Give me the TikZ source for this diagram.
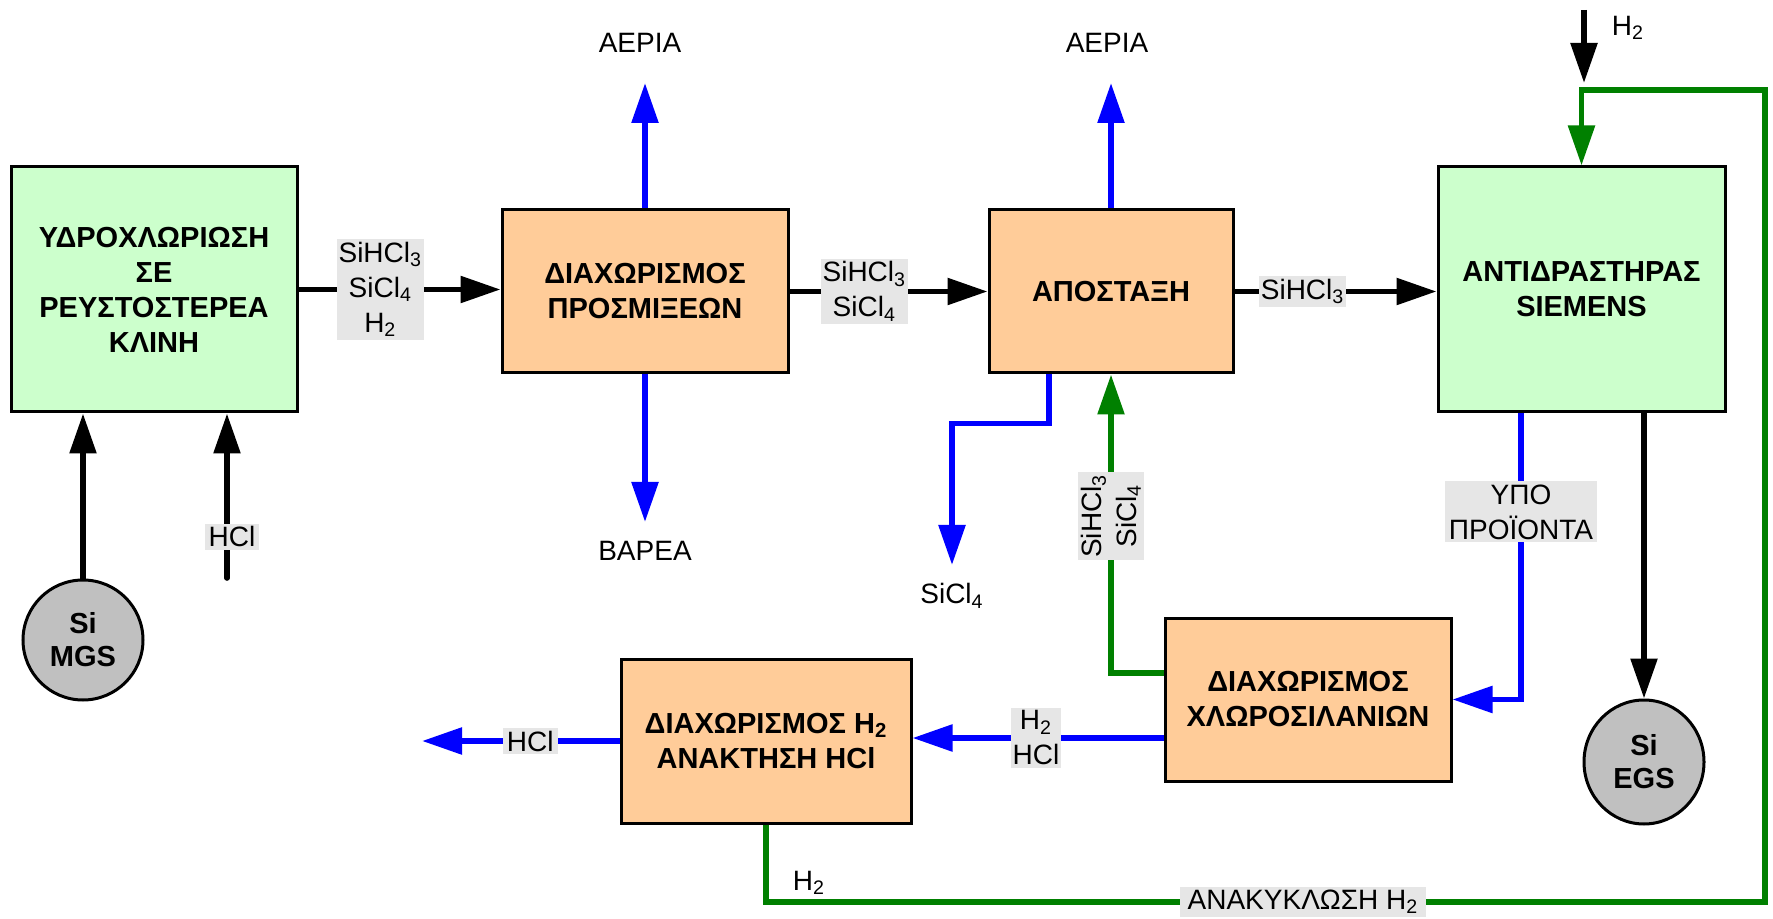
\documentclass[tikz,border=0pt]{standalone}
\usepackage{fontspec}
\setmainfont{Liberation Sans}
\usetikzlibrary{arrows.meta,shapes.geometric}
\definecolor{boxgreen}{HTML}{CCFFCC}
\definecolor{boxorange}{HTML}{FFCC99}
\definecolor{circgray}{HTML}{C0C0C0}
\definecolor{lblgray}{HTML}{E6E6E6}
\definecolor{linegreen}{HTML}{008000}
\definecolor{lineblue}{HTML}{0000FF}
\begin{document}
\begin{tikzpicture}[x=0.5pt,y=-0.5pt,
 proc/.style={draw=black, line width=1.5pt, align=center, font=\fontsize{14.5}{17.5}\selectfont\bfseries, inner sep=0pt},
 gbox/.style={proc, fill=boxgreen},
 obox/.style={proc, fill=boxorange},
 src/.style={ellipse, draw=black, line width=1.5pt, fill=circgray, align=center, font=\fontsize{14.5}{16.5}\selectfont\bfseries, inner sep=0pt, minimum width=60pt, minimum height=60pt},
 lbl/.style={fill=lblgray, align=center, font=\fontsize{14}{17.5}\selectfont, inner xsep=1pt, inner ysep=1.5pt},
 txt/.style={align=center, font=\fontsize{14}{17.5}\selectfont, inner sep=0pt},
 flow/.style={line width=2.8pt, -{Triangle[length=20pt,width=13pt]}},
 blk/.style={flow, draw=black},
 blu/.style={flow, draw=lineblue},
 grn/.style={flow, draw=linegreen}
]
\useasboundingbox (0,0) rectangle (1773,919);

% process boxes
\node[gbox, minimum width=143pt, minimum height=122.5pt] (b1) at (154,289.5) {ΥΔΡΟΧΛΩΡΙΩΣΗ\\ΣΕ\\ΡΕΥΣΤΟΣΤΕΡΕΑ\\ΚΛΙΝΗ};
\node[obox, minimum width=143pt, minimum height=81.5pt] (b2) at (645,291.5) {ΔΙΑΧΩΡΙΣΜΟΣ\\ΠΡΟΣΜΙΞΕΩΝ};
\node[obox, minimum width=122pt, minimum height=81.5pt] (b3) at (1111,291.5) {ΑΠΟΣΤΑΞΗ};
\node[gbox, minimum width=143.5pt, minimum height=122.5pt] (b4) at (1581.5,289.5) {ΑΝΤΙΔΡΑΣΤΗΡΑΣ\\SIEMENS};
\node[obox, minimum width=143pt, minimum height=81.5pt] (b5) at (1308,699.5) {ΔΙΑΧΩΡΙΣΜΟΣ\\ΧΛΩΡΟΣΙΛΑΝΙΩΝ};
\node[obox, minimum width=145pt, minimum height=82pt] (b6) at (766,741) {ΔΙΑΧΩΡΙΣΜΟΣ H\textsubscript{2}\\ΑΝΑΚΤΗΣΗ HCl};
\node[src] (mgs) at (83,640) {Si\\MGS};
\node[src, minimum height=62pt] (egs) at (1644,762) {Si\\EGS};

% black feeds
\draw[blk] (mgs.north) -- (b1.south -| mgs.north);
\coordinate (hclin) at (227,578);
\draw[blk, line cap=round] (hclin) -- (hclin |- b1.south) node[lbl, pos=0.25, xshift=2.5pt, inner xsep=2pt] {HCl};
\draw[blk] (b1.east) -- (b1.east -| b2.west) node[lbl, pos=0.405] {SiHCl\textsubscript{3}\\SiCl\textsubscript{4}\\H\textsubscript{2}};
\draw[blk] (b2.east) -- (b3.west) node[lbl, pos=0.378] {SiHCl\textsubscript{3}\\SiCl\textsubscript{4}};
\draw[blk] (b3.east) -- (b3.east -| b4.west) node[lbl, pos=0.337] {SiHCl\textsubscript{3}};
\draw[blk] (egs.north |- b4.south) -- (egs.north);
\coordinate (h2a) at (1584,10);
\coordinate (h2b) at (1584,83);
\draw[blk] (h2a) -- (h2b);
\node[txt] (th2) at (1628,28) {H\textsubscript{2}};

% blue outputs
\coordinate (g1) at (645,83);
\draw[blu] (b2.north) -- (g1);
\node[txt] (t1) at (640,43) {ΑΕΡΙΑ};
\coordinate (v1) at (645,522);
\draw[blu] (b2.south) -- (v1);
\node[txt] (t2) at (645,551) {ΒΑΡΕΑ};
\coordinate (g2) at (1111,83);
\draw[blu] (b3.north) -- (g2);
\node[txt] (t3) at (1107,43) {ΑΕΡΙΑ};
\coordinate (s1) at (952,565);
\draw[blu] ([xshift=-31pt]b3.south) -- ++(0,49) -| (s1);
\node[txt] (t4) at (952,596) {SiCl\textsubscript{4}};
\draw[blu] ([xshift=-30.25pt]b4.south) |- (b5.east) node[lbl, pos=0.172, inner xsep=2pt] {ΥΠΟ\\ΠΡΟΪΟΝΤΑ};
\coordinate (p1) at ([yshift=-19.25pt]b5.west);
\draw[blu] (p1) -- (p1 -| b6.east) node[lbl, pos=0.508] {H\textsubscript{2}\\HCl};
\coordinate (hout) at (422,741);
\draw[blu] (b6.west) -- (hout) node[lbl, pos=0.452, inner xsep=2pt] {HCl};

% green recycles
\draw[grn] ([yshift=13.25pt]b5.west) -| (b3.south) node[lbl, rotate=90, pos=0.763] {SiHCl\textsubscript{3}\\SiCl\textsubscript{4}};
\coordinate (rc1) at (1765,902);
\coordinate (rc2) at (1765,90);
\draw[grn] (b6.south) |- (rc1) -- (rc2) -| (b4.north);
\node[lbl, inner xsep=4pt] (trc) at (1303,902) {ΑΝΑΚΥΚΛΩΣΗ H\textsubscript{2}};
\node[txt] (th2b) at (809,883) {H\textsubscript{2}};
\end{tikzpicture}
\end{document}
